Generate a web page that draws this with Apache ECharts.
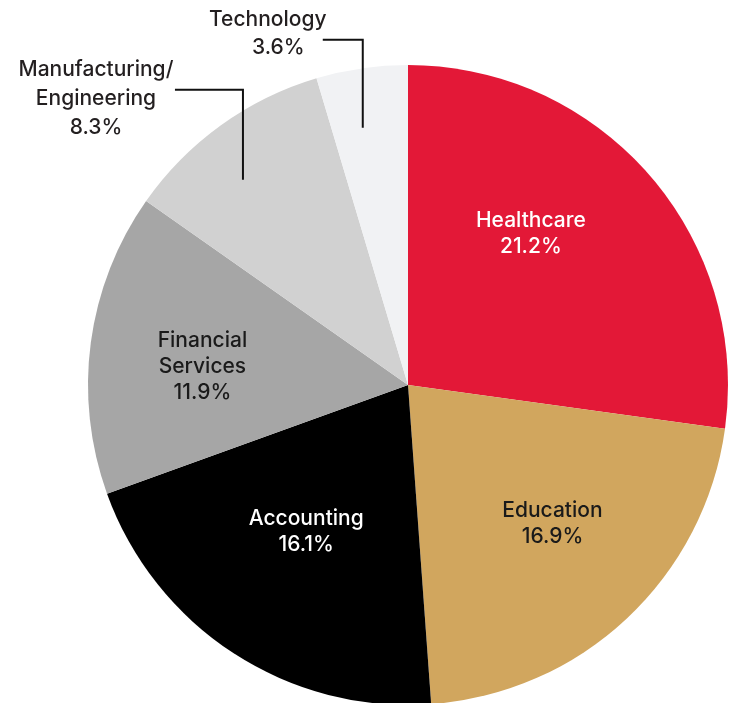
<!DOCTYPE html>
<html>
<head>
<meta charset="utf-8">
<script src="https://cdn.jsdelivr.net/npm/echarts@6/dist/echarts.min.js"></script>
<style>
html,body{margin:0;padding:0;background:#fff;}
#chart{width:734px;height:703px;}
</style>
</head>
<body>
<div id="chart"></div>
<script>
// ---- data ----
const categories = ['Healthcare', 'Education', 'Accounting', 'Financial Services', 'Manufacturing/Engineering', 'Technology'];
const labelNames = ['Healthcare', 'Education', 'Accounting', 'Financial\nServices', 'Manufacturing/\nEngineering', 'Technology'];
const values = [21.2, 16.9, 16.1, 11.9, 8.3, 3.6];

// ---- styles ----
const colors = ['#E31837', '#D1A65E', '#000000', '#A6A6A6', '#D1D1D1', '#F1F2F4'];
const textColors = ['#ffffff', '#1a1a1a', '#ffffff', '#1a1a1a', '#231F20', '#231F20'];
const outside = [false, false, false, false, true, true];
// label nudges for inside labels (px)
const insideNudge = [[0, -44], [33, 20], [-13, 10], [-44, 3], [0, 0], [0, 0]];
// leader-line spec for outside labels, relative to the slice's edge point
// [shiftX, up, down, horizontal, labelDX, labelDY]
const leader = [null, null, null, null, [22, 35.5, 54.5, 68, 79, 9], [1, 28.5, 59.5, 40, 55, -6]];

const FONT = 'Inter, "Noto Sans", sans-serif';
const FS = 21;
const FW = 500;

const chart = echarts.init(document.getElementById('chart'), null, {renderer: 'canvas'});

function pctText(i) { return values[i].toFixed(1) + '%'; }

// base series: slices + inside labels
const baseData = categories.map((c, i) => ({
  name: c,
  value: values[i],
  itemStyle: {color: colors[i]},
  label: {
    show: !outside[i],
    position: 'inside',
    color: textColors[i],
    formatter: labelNames[i] + '\n' + pctText(i)
  },
  labelLine: {show: false}
}));

// overlay series: only outside labels + leader lines, drawn on top of slices
const overlayData = categories.map((c, i) => ({
  name: c,
  value: values[i],
  itemStyle: {color: 'rgba(0,0,0,0)'},
  label: {
    show: outside[i],
    position: 'outside',
    color: textColors[i],
    formatter: i === 5 ? '{a|' + labelNames[i] + '}\n{b|' + pctText(i) + '}' : labelNames[i] + '\n' + pctText(i),
    rich: i === 5 ? {
      a: {fontFamily: FONT, fontSize: FS, fontWeight: FW, color: textColors[i], lineHeight: 28},
      b: {fontFamily: FONT, fontSize: FS, fontWeight: FW, color: textColors[i], lineHeight: 28, padding: [0, 0, 0, 21]}
    } : undefined
  },
  labelLine: {show: outside[i], lineStyle: {color: '#111', width: 2}}
}));

const common = {
  type: 'pie',
  center: [408, 385],
  radius: 320,
  startAngle: 90,
  clockwise: true,
  avoidLabelOverlap: false
};

chart.setOption({
  animation: false,
  series: [
    Object.assign({}, common, {
      z: 2,
      label: {fontFamily: FONT, fontSize: FS, fontWeight: FW, lineHeight: 26, align: 'center'},
      data: baseData,
      labelLayout: function (params) {
        const i = params.dataIndex;
        return {dx: insideNudge[i][0], dy: insideNudge[i][1]};
      }
    }),
    Object.assign({}, common, {
      z: 5,
      silent: true,
      label: {fontFamily: FONT, fontSize: FS, fontWeight: FW, lineHeight: 29, align: 'center'},
      labelLine: {length: 20, length2: 30, smooth: false},
      data: overlayData,
      labelLayout: function (params) {
        const i = params.dataIndex;
        const pts = params.labelLinePoints;
        if (!outside[i] || !pts || !leader[i]) return {};
        const L = leader[i];
        const p0 = pts[0];
        const x = p0[0] + L[0];
        const top = p0[1] - L[1];
        const bottom = p0[1] + L[2];
        const endX = x - L[3];
        return {
          x: endX - L[4],
          y: top + L[5],
          align: 'center',
          verticalAlign: 'middle',
          labelLinePoints: [[x, bottom], [x, top], [endX, top]]
        };
      }
    })
  ]
});
</script>
</body>
</html>
